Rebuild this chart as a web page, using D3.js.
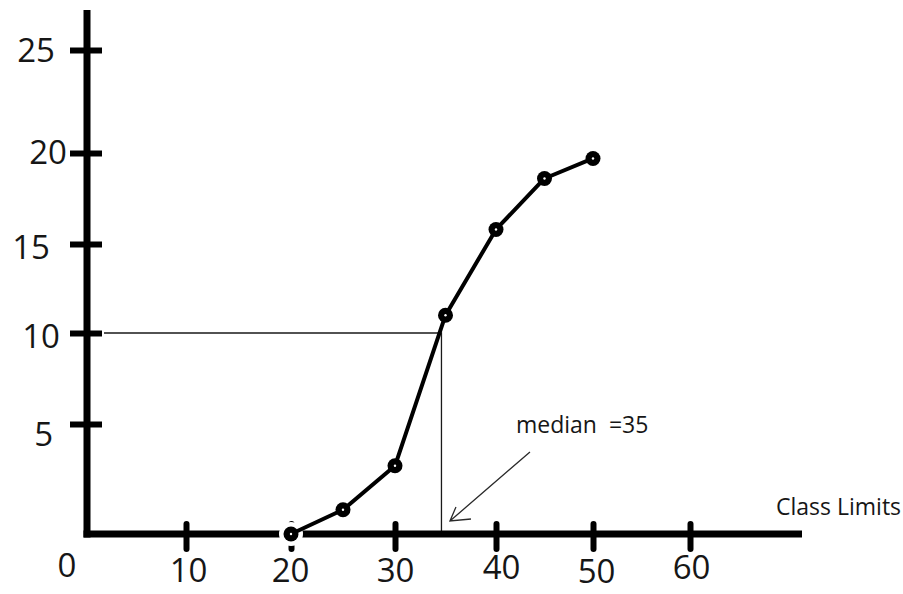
<!DOCTYPE html>
<html>
<head>
<meta charset="utf-8">
<script src="https://cdn.jsdelivr.net/npm/d3@7"></script>
<style>
	body { margin: 0; background: #fff; }
	svg { display: block; }
	text { font-family: "Open Sans", sans-serif; fill: #161616; }
</style>
</head>
<body>
<svg id="chart" width="903" height="594"></svg>
<script>
// ogive: cumulative frequency against upper class limits
var classLimits = [20, 25, 30, 35, 40, 45, 50];
var cumFreq = [0, 1.1, 3.1, 11, 15.8, 18.6, 19.7];
var xTicks = [10, 20, 30, 40, 50, 60];
var yTicks = [5, 10, 15, 20, 25];
var medianValue = 34.6;
var halfTotal = 10;
var medianText = 'median  =35';
var xTitle = 'Class Limits';

var svg = d3.select('#chart');

// hand drawn axes, so the tick spacing is not quite even
var x = d3.scaleLinear()
	.domain([0, 10, 20, 30, 40, 50, 60, 71.5])
	.range([87, 186, 291, 395, 496, 593, 690, 802]);

var y = d3.scaleLinear()
	.domain([0, 5, 10, 15, 20, 25, 29])
	.range([534, 424, 333, 244, 153, 50, 10]);

// small nudges of the tick labels, as in the sketch
var yLabelShift = { 5: [-34, 10], 10: [-27, 3], 15: [-37, 3], 20: [-20, -0.5], 25: [-32, 0.5] };
var xLabelShift = { 10: [2, 48], 20: [-1, 48], 30: [0, 48], 40: [5, 45], 50: [3, 49], 60: [1, 45] };

var pts = classLimits.map(function (c, i) { return [c, cumFreq[i]]; });

// guide lines for the median
svg.append('path')
	.attr('d', 'M' + (x(0) + 17) + ',' + y(halfTotal) + 'H' + x(medianValue) + 'V' + y(0))
	.attr('fill', 'none')
	.attr('stroke', '#1a1a1a')
	.attr('stroke-width', 1.3);

// y axis
var yAxis = svg.append('g')
	.attr('transform', 'translate(' + x(0) + ',0)')
	.call(d3.axisLeft(y).tickValues(yTicks).tickSize(0).tickSizeOuter(0));

yAxis.select('.domain')
	.attr('d', 'M0,' + y(29) + 'V' + (y(0) + 3.5))
	.attr('stroke', '#000')
	.attr('stroke-width', 7);

yAxis.selectAll('.tick line')
	.attr('x1', -17)
	.attr('x2', 15)
	.attr('stroke', '#000')
	.attr('stroke-width', 6);

yAxis.selectAll('.tick text')
	.attr('x', function (d) { return yLabelShift[d][0]; })
	.attr('y', function (d) { return yLabelShift[d][1]; })
	.attr('dy', '0.34em')
	.style('font-size', '33px')
	.attr('fill', '#161616');

// x axis
var xAxis = svg.append('g')
	.attr('transform', 'translate(0,' + y(0) + ')')
	.call(d3.axisBottom(x).tickValues(xTicks).tickSize(0).tickSizeOuter(0));

xAxis.select('.domain')
	.attr('d', 'M' + (x(0) - 3.5) + ',0H' + x(71.5))
	.attr('stroke', '#000')
	.attr('stroke-width', 7);

xAxis.selectAll('.tick line')
	.attr('y1', -10)
	.attr('y2', 15)
	.attr('stroke', '#000')
	.attr('stroke-width', 6)
	.attr('stroke-linecap', 'round');

xAxis.selectAll('.tick text')
	.attr('x', function (d) { return xLabelShift[d][0]; })
	.attr('y', function (d) { return xLabelShift[d][1]; })
	.attr('dy', 0)
	.style('font-size', '33px')
	.attr('fill', '#161616');

svg.append('text')
	.attr('x', x(0) - 20)
	.attr('y', y(0) + 43)
	.attr('text-anchor', 'middle')
	.style('font-size', '33px')
	.text('0');

svg.append('text')
	.attr('x', 776)
	.attr('y', 515)
	.style('font-size', '23px')
	.text(xTitle);

// white halo under the points (cuts the axis at the first one)
svg.selectAll('circle.halo')
	.data(pts)
	.enter().append('circle')
		.attr('class', 'halo')
		.attr('cx', function (d) { return x(d[0]); })
		.attr('cy', function (d) { return y(d[1]); })
		.attr('r', 12)
		.attr('fill', '#fff');

var line = d3.line()
	.x(function (d) { return x(d[0]); })
	.y(function (d) { return y(d[1]); });

svg.append('path')
	.datum(pts)
	.attr('d', line)
	.attr('fill', 'none')
	.attr('stroke', '#000')
	.attr('stroke-width', 4)
	.attr('stroke-linejoin', 'round');

var marks = svg.selectAll('g.pt')
	.data(pts)
	.enter().append('g')
		.attr('class', 'pt')
		.attr('transform', function (d) { return 'translate(' + [x(d[0]), y(d[1])] + ')'; });

marks.append('circle')
	.attr('r', 7.5)
	.attr('fill', '#000');

marks.append('circle')
	.attr('r', 1.2)
	.attr('fill', '#fff');

// arrow pointing at the median on the axis
var tipX = x(medianValue) + 8.5,
	tipY = y(0) - 13;

svg.append('path')
	.attr('d', 'M' + (tipX + 80) + ',' + (tipY - 69) + 'L' + tipX + ',' + tipY +
		'M' + (tipX + 21) + ',' + (tipY - 2) + 'L' + tipX + ',' + tipY + 'L' + (tipX + 6) + ',' + (tipY - 14))
	.attr('fill', 'none')
	.attr('stroke', '#2a2a2a')
	.attr('stroke-width', 1.3);

svg.append('text')
	.attr('x', 516)
	.attr('y', 433)
	.style('font-size', '23px')
	.style('white-space', 'pre')
	.text(medianText);
</script>
</body>
</html>
